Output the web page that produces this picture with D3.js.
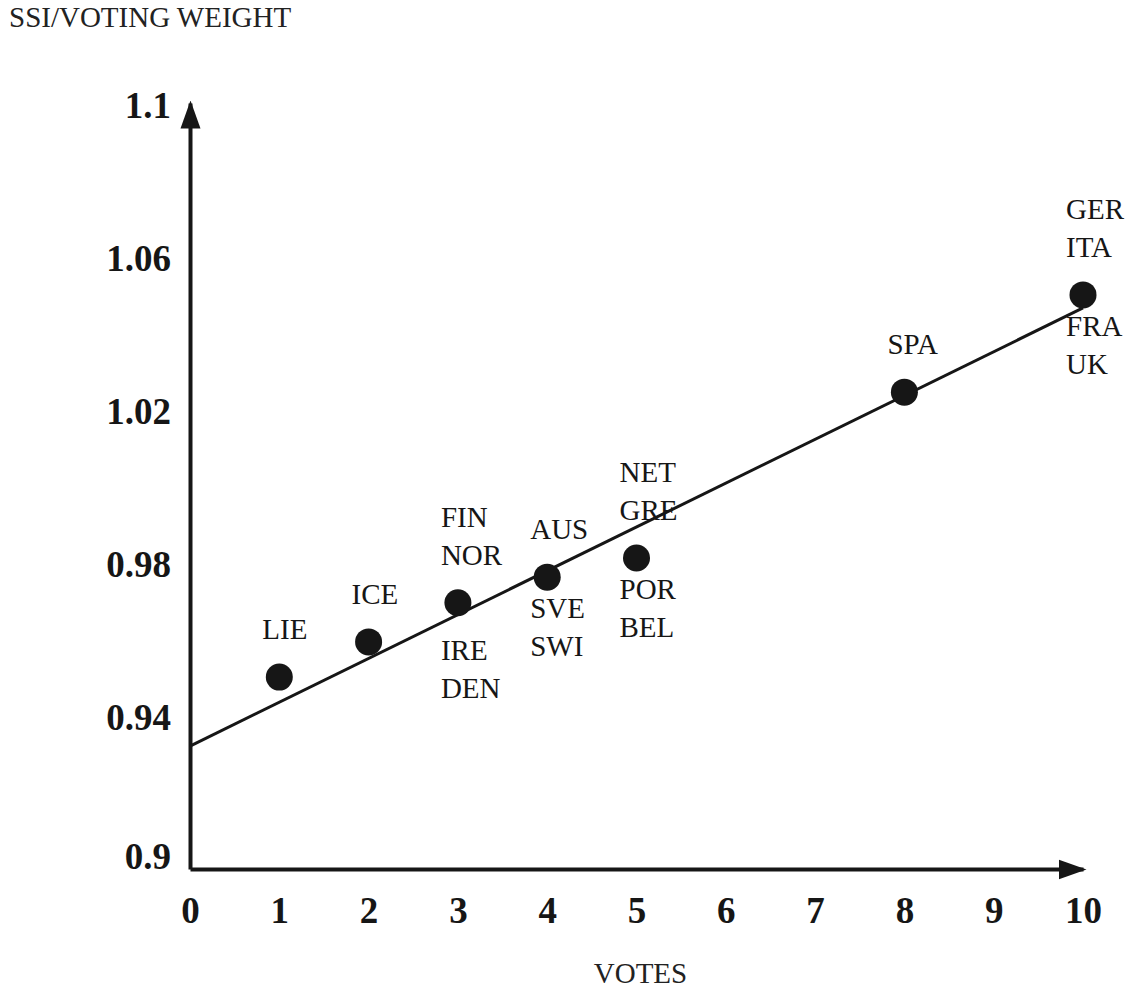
<!DOCTYPE html>
<html>
<head>
<meta charset="utf-8">
<script src="https://cdn.jsdelivr.net/npm/d3@7"></script>
<style>
  body { margin: 0; background: #fff; }
  svg { display: block; }
</style>
</head>
<body>
<div id="chart"></div>
<script>
// data
const votes = [1, 2, 3, 4, 5, 8, 10];
const ssiRatio = [0.9501, 0.9593, 0.9695, 0.9762, 0.9812, 1.0245, 1.0499];
const labelsAbove = [["LIE"], ["ICE"], ["FIN", "NOR"], ["AUS"], ["NET", "GRE"], ["SPA"], ["GER", "ITA"]];
const labelsBelow = [[], [], ["IRE", "DEN"], ["SVE", "SWI"], ["POR", "BEL"], [], ["FRA", "UK"]];
const xTicks = [0, 1, 2, 3, 4, 5, 6, 7, 8, 9, 10];
const yTicks = [0.9, 0.94, 0.98, 1.02, 1.06, 1.1];
const trendVotes = [0, 10];
const trendValues = [0.9321, 1.0465];

const width = 1132;
const height = 992;
const serif = "'Liberation Serif', 'Times New Roman', serif";
const ink = "#161616";
const labelSize = 29;

const svg = d3
  .select("#chart")
  .append("svg")
  .attr("width", width)
  .attr("height", height)
  .style("font-family", serif);

const xScale = d3.scaleLinear().domain([0, 10]).range([190, 1083]);
const yScale = d3.scaleLinear().domain([0.9, 1.1]).range([869, 103]);

// arrow heads for both axes
const defs = svg.append("defs");
defs
  .append("marker")
  .attr("id", "arrow")
  .attr("markerUnits", "userSpaceOnUse")
  .attr("viewBox", "0 -11 28 22")
  .attr("refX", 25)
  .attr("refY", 0)
  .attr("markerWidth", 28)
  .attr("markerHeight", 22)
  .attr("orient", "auto")
  .append("path")
  .attr("d", "M0,-10L28,0L0,10Z")
  .attr("fill", ink);

// x axis
const xAxis = d3.axisBottom(xScale).tickValues(xTicks).tickSize(0).tickSizeOuter(0);
const xAxisGroup = svg
  .append("g")
  .attr("transform", `translate(0, ${yScale(0.9)})`)
  .call(xAxis)
  .attr("font-family", serif)
  .attr("font-size", 37);
xAxisGroup
  .select(".domain")
  .attr("stroke", ink)
  .attr("stroke-width", 4)
  .attr("marker-end", "url(#arrow)");
xAxisGroup
  .selectAll(".tick text")
  .attr("y", 54)
  .attr("dy", 0)
  .attr("fill", ink)
  .attr("font-weight", "bold");

// y axis
const yAxis = d3.axisLeft(yScale).tickValues(yTicks).tickSize(0).tickSizeOuter(0);
const yAxisGroup = svg
  .append("g")
  .attr("transform", `translate(${xScale(0)}, 0)`)
  .call(yAxis)
  .attr("font-family", serif)
  .attr("font-size", 37);
yAxisGroup
  .select(".domain")
  .attr("stroke", ink)
  .attr("stroke-width", 4)
  .attr("marker-end", "url(#arrow)");
yAxisGroup
  .selectAll(".tick text")
  .attr("x", -19)
  .attr("dy", (d) => (d === 0.9 ? -1 : 14))
  .attr("fill", ink)
  .attr("font-weight", "bold")
  .text((d) => String(d));

// trend line
const trend = trendVotes.map((v, i) => [v, trendValues[i]]);
svg
  .append("path")
  .datum(trend)
  .attr("fill", "none")
  .attr("stroke", ink)
  .attr("stroke-width", 3)
  .attr(
    "d",
    d3
      .line()
      .x((d) => xScale(d[0]))
      .y((d) => yScale(d[1]))
  );

// points
const points = votes.map((v, i) => ({
  votes: v,
  ratio: ssiRatio[i],
  above: labelsAbove[i],
  below: labelsBelow[i],
}));

svg
  .selectAll(".dot")
  .data(points)
  .enter()
  .append("circle")
  .attr("class", "dot")
  .attr("cx", (d) => xScale(d.votes))
  .attr("cy", (d) => yScale(d.ratio))
  .attr("r", 13.5)
  .attr("fill", ink);

// country labels (IRE/DEN pushed down off the trend line, as in the original)
const lineGap = 38;
const belowNudge = { IRE: 16 };
points.forEach((d) => {
  const cx = xScale(d.votes) - 17;
  const cy = yScale(d.ratio);
  d.above.forEach((name, j) => {
    svg
      .append("text")
      .attr("x", cx)
      .attr("y", cy - 38 - (d.above.length - 1 - j) * lineGap)
      .attr("font-size", labelSize)
      .attr("fill", ink)
      .text(name);
  });
  const nudge = d.below.length ? belowNudge[d.below[0]] || 0 : 0;
  d.below.forEach((name, j) => {
    svg
      .append("text")
      .attr("x", cx)
      .attr("y", cy + 41 + nudge + j * lineGap)
      .attr("font-size", labelSize)
      .attr("fill", ink)
      .text(name);
  });
});

// axis titles
svg
  .append("text")
  .attr("x", 9)
  .attr("y", 27)
  .attr("font-size", labelSize)
  .attr("fill", "#222")
  .text("SSI/VOTING WEIGHT");

svg
  .append("text")
  .attr("x", (xScale.range()[0] + xScale.range()[1]) / 2 + 4)
  .attr("y", 983)
  .attr("text-anchor", "middle")
  .attr("font-size", labelSize)
  .attr("fill", "#222")
  .text("VOTES");
</script>
</body>
</html>
